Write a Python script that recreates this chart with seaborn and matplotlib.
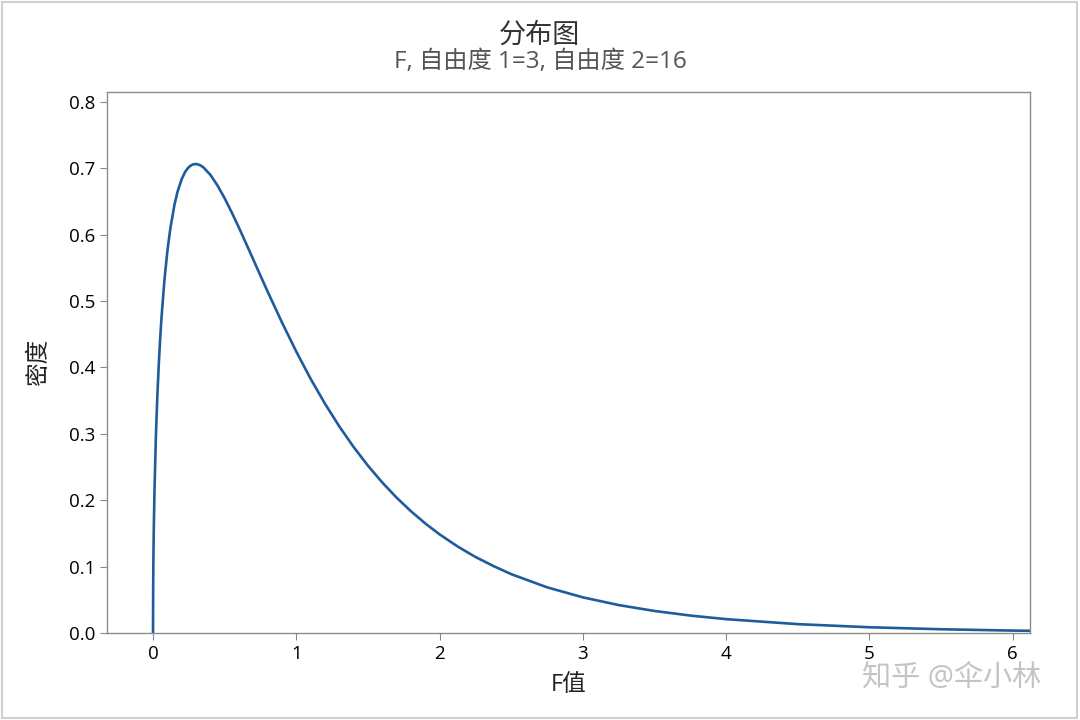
import matplotlib.pyplot as plt
import seaborn as sns
from matplotlib.patches import Rectangle

# values (F pdf, df1=3, df2=16)
f_values = [0.0, 0.001, 0.002, 0.003, 0.005, 0.01, 0.02, 0.03, 0.04, 0.05,
            0.06, 0.08, 0.1, 0.12, 0.15, 0.17, 0.2, 0.225, 0.25, 0.275,
            0.3, 0.325, 0.35, 0.4, 0.45, 0.5, 0.55, 0.6, 0.65, 0.7, 0.75,
            0.8, 0.9, 1.0, 1.1, 1.2, 1.3, 1.4, 1.5, 1.6, 1.7, 1.8, 1.9,
            2.0, 2.125, 2.25, 2.375, 2.5, 2.75, 3.0, 3.25, 3.5, 3.75, 4.0,
            4.5, 5.0, 5.5, 6.0, 6.2]
density = [0.0, 0.0684, 0.0966, 0.1181, 0.1520, 0.2130, 0.2960, 0.3561,
           0.4040, 0.4437, 0.4776, 0.5324, 0.5748, 0.6080, 0.6453, 0.6636,
           0.6835, 0.6946, 0.7016, 0.7053, 0.7062, 0.7047, 0.7014, 0.6899,
           0.6738, 0.6545, 0.6330, 0.6101, 0.5863, 0.5622, 0.5380, 0.5141,
           0.4677, 0.4238, 0.3829, 0.3455, 0.3113, 0.2803, 0.2522, 0.2269,
           0.2041, 0.1837, 0.1653, 0.1489, 0.1307, 0.1149, 0.1013, 0.0890,
           0.0692, 0.0541, 0.0425, 0.0336, 0.0267, 0.0213, 0.0138, 0.0091,
           0.0061, 0.0041, 0.0036]
x_ticks = [0, 1, 2, 3, 4, 5, 6]
y_ticks = [0.0, 0.1, 0.2, 0.3, 0.4, 0.5, 0.6, 0.7, 0.8]

title = "分布图"
subtitle = "F, 自由度 1=3, 自由度 2=16"

sns.set_style("ticks")
plt.rcParams["font.family"] = ["Open Sans", "Noto Sans CJK SC", "DejaVu Sans"]

fig = plt.figure(figsize=(10.8, 7.2), dpi=100)
ax = fig.add_axes([0.0991, 0.1204, 0.8543, 0.7514])

sns.lineplot(x=f_values, y=density, ax=ax, color="#1f5c9c", linewidth=1.9)

ax.set_xlim(-0.321, 6.118)
ax.set_ylim(0, 0.814)
ax.set_xticks(x_ticks)
ax.set_yticks(y_ticks)
ax.set_xticklabels([str(t) for t in x_ticks])
ax.set_yticklabels([f"{t:.1f}" for t in y_ticks])
ax.tick_params(axis="both", labelsize=13.5, labelcolor="#000000", length=5, width=0.8,
               color="#888888")

for side in ["left", "right", "top", "bottom"]:
    ax.spines[side].set_visible(True)
    ax.spines[side].set_color("#8c8c8c")
    ax.spines[side].set_linewidth(1.0)

ax.set_xlabel("F值", fontsize=17, color="#222222", labelpad=7)
ax.set_ylabel("密度", fontsize=17, color="#222222", labelpad=13)

fig.text(0.5, 0.951, title, ha="center", va="center", fontsize=19.5, color="#333333")
fig.text(0.5, 0.914, subtitle, ha="center", va="center", fontsize=17.5, color="#555555")

# watermark
fig.text(0.881, 0.058, "知乎 @伞小林", ha="center", va="center", fontsize=21,
         color="#c4c4c4")

fig.patches.append(Rectangle((0.002, 0.003), 0.995, 0.994, transform=fig.transFigure,
                             fill=False, edgecolor="#d0d0d0", linewidth=1.5))

fig.savefig("out.png", dpi=100, facecolor="white")
plt.close(fig)
